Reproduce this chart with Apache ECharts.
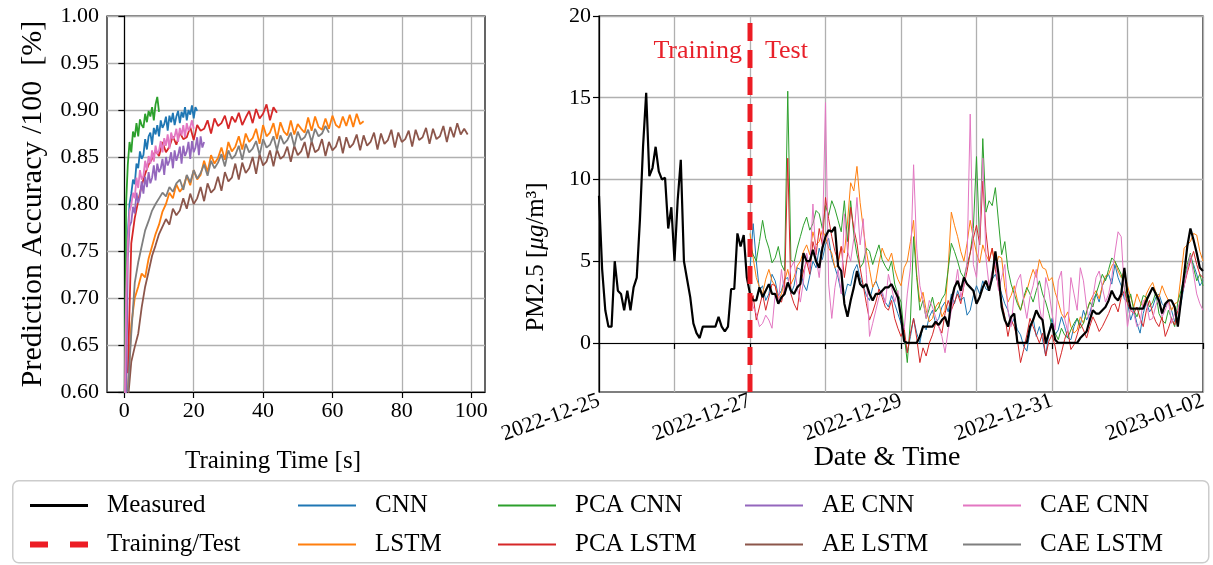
<!DOCTYPE html>
<html>
<head>
<meta charset="utf-8">
<script src="https://cdn.jsdelivr.net/npm/echarts@6/dist/echarts.min.js"></script>
<style>
  html, body { margin: 0; padding: 0; background: #fff; }
  #chart { width: 1213px; height: 565px; }
</style>
</head>
<body>
<div id="chart"></div>
<script>
// ---- left panel: prediction accuracy vs training time ----
const modelNames = ['CNN', 'LSTM', 'PCA CNN', 'PCA LSTM', 'AE CNN', 'AE LSTM', 'CAE CNN', 'CAE LSTM'];
const modelColors = ['#1f77b4', '#ff7f0e', '#2ca02c', '#d62728', '#9467bd', '#8c564b', '#e377c2', '#7f7f7f'];

// first training time [s] and spacing of each accuracy record, in modelNames order
const accStart = [0, 1, 0, 1, 0.5, 1, 0, 1];
const accStep = [0.5, 1, 0.5, 1, 0.5, 1, 0.5, 1];

const accCNN = [0.55, 0.73, 0.768, 0.800, 0.811, 0.826, 0.821, 0.843, 0.838, 0.856, 0.848, 0.852, 0.869, 0.858,
  0.872, 0.876, 0.863, 0.881, 0.874, 0.884, 0.872, 0.889, 0.881, 0.885, 0.893, 0.878, 0.894, 0.887, 0.897, 0.884,
  0.893, 0.899, 0.886, 0.898, 0.892, 0.903, 0.889, 0.900, 0.895, 0.905, 0.891, 0.903, 0.899];
const accLSTM = [0.60, 0.672, 0.700, 0.712, 0.726, 0.722, 0.742, 0.755, 0.768, 0.778, 0.792, 0.800, 0.812, 0.806,
  0.821, 0.813, 0.818, 0.830, 0.820, 0.836, 0.826, 0.831, 0.846, 0.834, 0.852, 0.843, 0.849, 0.860, 0.847, 0.866,
  0.856, 0.861, 0.872, 0.858, 0.875, 0.866, 0.870, 0.880, 0.864, 0.884, 0.872, 0.876, 0.886, 0.869, 0.887, 0.877,
  0.873, 0.889, 0.874, 0.885, 0.880, 0.876, 0.892, 0.878, 0.893, 0.882, 0.879, 0.891, 0.880, 0.894, 0.884, 0.881,
  0.893, 0.883, 0.895, 0.882, 0.896, 0.885, 0.888];
const accPCACNN = [0.55, 0.80, 0.842, 0.866, 0.855, 0.877, 0.871, 0.886, 0.872, 0.890, 0.884, 0.881, 0.896, 0.887,
  0.899, 0.893, 0.903, 0.889, 0.906, 0.914, 0.898];
const accPCALSTM = [0.62, 0.758, 0.785, 0.803, 0.820, 0.832, 0.842, 0.848, 0.857, 0.851, 0.866, 0.855, 0.861, 0.872,
  0.863, 0.876, 0.869, 0.871, 0.882, 0.868, 0.884, 0.878, 0.880, 0.889, 0.875, 0.891, 0.883, 0.886, 0.894, 0.880,
  0.893, 0.887, 0.897, 0.884, 0.892, 0.899, 0.886, 0.901, 0.891, 0.896, 0.906, 0.889, 0.903, 0.897];
const accAECNN = [0.58, 0.742, 0.776, 0.781, 0.797, 0.790, 0.812, 0.801, 0.808, 0.824, 0.811, 0.829, 0.818, 0.834,
  0.822, 0.828, 0.841, 0.825, 0.843, 0.834, 0.838, 0.848, 0.831, 0.850, 0.841, 0.846, 0.855, 0.838, 0.857, 0.846,
  0.852, 0.861, 0.843, 0.862, 0.851, 0.856, 0.866, 0.848, 0.867, 0.855, 0.860, 0.871, 0.852, 0.872, 0.860, 0.866];
const accAELSTM = [0.59, 0.632, 0.648, 0.662, 0.690, 0.712, 0.728, 0.745, 0.756, 0.768, 0.776, 0.784, 0.778, 0.795,
  0.788, 0.793, 0.806, 0.795, 0.811, 0.800, 0.806, 0.818, 0.803, 0.822, 0.812, 0.816, 0.829, 0.814, 0.834, 0.824,
  0.828, 0.843, 0.826, 0.844, 0.833, 0.838, 0.850, 0.832, 0.853, 0.841, 0.845, 0.857, 0.840, 0.858, 0.848, 0.851,
  0.861, 0.845, 0.862, 0.852, 0.856, 0.866, 0.849, 0.867, 0.855, 0.858, 0.869, 0.851, 0.866, 0.857, 0.861, 0.872,
  0.854, 0.871, 0.860, 0.864, 0.874, 0.857, 0.873, 0.862, 0.866, 0.876, 0.858, 0.875, 0.864, 0.868, 0.879, 0.860,
  0.876, 0.866, 0.869, 0.878, 0.861, 0.879, 0.868, 0.871, 0.881, 0.864, 0.880, 0.869, 0.872, 0.883, 0.866, 0.882,
  0.871, 0.886, 0.874, 0.880, 0.874];
const accCAECNN = [0.55, 0.70, 0.758, 0.792, 0.799, 0.812, 0.806, 0.828, 0.817, 0.836, 0.826, 0.830, 0.846, 0.836,
  0.851, 0.843, 0.857, 0.845, 0.862, 0.853, 0.857, 0.867, 0.855, 0.870, 0.862, 0.874, 0.859, 0.876, 0.869, 0.872,
  0.880, 0.866, 0.881, 0.873, 0.884, 0.871, 0.886, 0.878, 0.882, 0.889, 0.880];
const accCAELSTM = [0.60, 0.662, 0.716, 0.738, 0.755, 0.772, 0.782, 0.793, 0.800, 0.806, 0.812, 0.808, 0.818, 0.813,
  0.822, 0.826, 0.815, 0.831, 0.823, 0.836, 0.827, 0.833, 0.842, 0.830, 0.846, 0.838, 0.844, 0.853, 0.840, 0.857,
  0.848, 0.852, 0.862, 0.847, 0.864, 0.855, 0.859, 0.867, 0.852, 0.869, 0.860, 0.863, 0.872, 0.857, 0.873, 0.864,
  0.868, 0.876, 0.861, 0.877, 0.868, 0.871, 0.879, 0.866, 0.880, 0.872, 0.875, 0.883, 0.876];
const accByModel = [accCNN, accLSTM, accPCACNN, accPCALSTM, accAECNN, accAELSTM, accCAECNN, accCAELSTM];

const timeTicks = [0, 20, 40, 60, 80, 100];
const accTicks = [0.60, 0.65, 0.70, 0.75, 0.80, 0.85, 0.90, 0.95, 1.00];

// ---- right panel: PM2.5, hours since 2022-12-25 00:00 ----
const dateTickHours = [0, 48, 96, 144, 192];
const dateTickLabels = ['2022-12-25', '2022-12-27', '2022-12-29', '2022-12-31', '2023-01-02'];
const dayHours = 24;
const pmTicks = [0, 5, 10, 15, 20];
const splitHour = 48;

// hourly measured values, from hour 0
const measured = [9.0, 4.5, 2.0, 1.0, 1.0, 5.0, 3.2, 3.0, 2.0, 3.2, 2.0, 3.4, 4.0, 7.5, 12.0, 15.3, 10.2, 10.7,
  12.0, 10.5, 10.0, 10.1, 7.0, 8.3, 5.0, 8.7, 11.2, 5.0, 3.9, 2.8, 1.2, 0.6, 0.3, 1.0, 1.0, 1.0, 1.0, 1.0, 1.6,
  1.0, 0.7, 1.0, 3.3, 3.3, 6.7, 5.9, 6.6, 4.0, 3.0, 2.6, 2.6, 3.4, 2.8, 3.2, 3.6, 3.0, 3.0, 2.4, 2.8, 3.0, 3.7,
  3.2, 3.0, 3.4, 3.6, 5.5, 5.0, 5.0, 5.7, 5.0, 4.6, 5.8, 6.5, 6.9, 6.8, 7.1, 4.7, 4.4, 2.4, 1.6, 2.6, 3.4, 4.4,
  3.6, 3.4, 3.6, 3.0, 2.6, 3.0, 3.0, 3.2, 3.4, 3.4, 3.6, 3.2, 2.8, 1.6, 0.1, 0, 0, 0, 0, 0.4, 1.0, 1.0, 1.0, 1.0,
  1.3, 1.1, 1.4, 1.6, 1.0, 2.6, 3.4, 3.8, 3.2, 4.0, 3.6, 3.4, 3.2, 2.4, 2.8, 3.4, 3.8, 3.2, 4.0, 5.6, 4.2, 2.2,
  1.4, 1.0, 1.6, 1.8, 0, 0, 0, 0, 1.0, 1.4, 2.0, 1.6, 1.4, 0, 0.6, 1.2, 0.2, 0, 0, 0, 0, 0, 0, 0, 0.3, 0.5, 0.7,
  1.4, 2.0, 1.8, 1.8, 2.0, 2.2, 2.6, 3.2, 2.8, 2.6, 3.0, 4.6, 3.0, 2.1, 2.1, 2.1, 2.1, 2.1, 2.6, 3.0, 3.4, 3.0,
  2.6, 1.8, 2.4, 2.6, 2.6, 2.2, 1.0, 2.6, 4.2, 5.9, 7.0, 6.3, 5.5, 4.6, 4.4];

// hourly model predictions over the test period, from hour 48
const predCNN = [4.5, 7.3, 5.0, 3.2, 3.5, 2.6, 3.0, 4.2, 3.8, 2.9, 3.2, 3.9, 4.0, 3.0, 3.5, 4.6, 4.5, 3.6, 3.2,
  4.1, 5.0, 4.6, 5.8, 5.1, 6.0, 6.4, 5.2, 4.6, 4.0, 3.1, 2.8, 3.6, 3.5, 4.4, 4.8, 4.0, 3.5, 2.9, 2.6, 3.4, 3.8,
  3.3, 3.0, 2.5, 2.2, 2.9, 2.4, 1.8, 1.2, 0.2, -0.6, 0.4, 1.5, 0.6, 0.0, 1.1, 0.8, 1.6, 2.0, 1.2, 1.5, 2.2, 2.5,
  1.9, 3.0, 2.4, 3.2, 2.6, 2.8, 1.7, 2.0, 2.9, 3.5, 3.0, 3.8, 3.3, 3.2, 3.9, 4.2, 3.6, 3.0, 2.4, 2.0, 1.1, 1.5,
  0.8, 0.5, -0.2, -0.5, 0.7, 1.5, 0.4, 1.0, 0.2, -0.8, 0.6, 1.5, 0.5, 0.8, 1.6, 1.0, 0.3, 0.2, 1.0, 1.5, 1.1,
  2.0, 1.4, 1.8, 2.6, 3.0, 2.5, 3.5, 3.9, 4.2, 3.6, 4.8, 4.0, 3.5, 2.7, 2.5, 1.4, 2.0, 1.2, 0.6, 1.8, 2.5, 1.9,
  2.2, 2.8, 3.0, 2.4, 2.2, 2.6, 2.0, 1.3, 1.5, 2.4, 3.5, 4.6, 5.2, 4.8, 4.2, 3.5, 3.8];
const predLSTM = [6.7, 5.2, 4.0, 3.4, 3.0, 3.9, 4.5, 3.8, 3.5, 2.7, 3.0, 3.8, 4.5, 3.6, 4.0, 4.7, 5.0, 5.6, 6.0,
  5.4, 6.8, 6.0, 6.2, 6.9, 6.5, 5.8, 5.5, 4.6, 4.8, 5.9, 5.5, 7.4, 9.8, 9.3, 10.8, 8.6, 7.0, 5.6, 4.5, 3.4, 3.8,
  4.9, 5.8, 5.3, 5.0, 5.5, 4.5, 3.9, 3.5, 4.6, 5.0, 6.2, 7.5, 4.2, 2.5, 3.1, 2.0, 1.3, 1.5, 2.2, 2.5, 1.6, 2.0,
  4.6, 8.0, 7.2, 6.5, 5.6, 5.0, 6.1, 7.5, 6.4, 5.5, 4.9, 6.0, 5.4, 5.0, 5.8, 4.5, 5.3, 5.2, 3.4, 2.5, 2.9, 3.5,
  2.6, 2.0, 2.7, 3.2, 3.9, 4.5, 4.0, 5.1, 4.6, 4.5, 3.8, 4.0, 3.1, 2.5, 1.8, 1.5, 1.9, 1.0, 0.6, 0.8, 1.6, 1.2,
  1.9, 2.5, 2.9, 3.2, 2.7, 3.5, 4.1, 4.2, 4.7, 5.0, 4.4, 4.0, 4.4, 3.5, 2.8, 2.2, 3.0, 2.5, 2.2, 3.0, 3.4, 3.7,
  3.1, 2.8, 3.5, 3.0, 2.6, 2.0, 2.4, 2.5, 4.1, 5.8, 6.0, 6.2, 6.7, 6.6, 5.6, 5.0];
const predPCACNN = [6.0, 5.4, 5.0, 6.2, 7.5, 6.4, 5.8, 4.9, 5.2, 5.9, 4.8, 4.4, 15.4, 5.1, 4.9, 5.8, 6.5, 7.2,
  7.7, 6.9, 7.3, 8.1, 7.9, 7.0, 8.4, 7.8, 8.7, 8.2, 7.5, 6.8, 8.7, 6.2, 8.7, 6.6, 5.4, 4.6, 4.9, 5.8, 5.6, 4.8,
  5.4, 6.0, 5.1, 4.7, 4.4, 5.0, 3.6, 3.0, 2.5, 0.6, -1.2, 1.4, 6.5, 4.0, 2.0, 2.6, 1.5, 2.1, 2.8, 1.9, 2.2, 2.7,
  3.0, 4.5, 6.1, 5.6, 5.0, 4.3, 4.0, 4.8, 5.5, 7.0, 11.4, 6.0, 12.5, 8.0, 8.7, 8.4, 9.5, 7.4, 5.4, 6.2, 4.5, 3.6,
  3.0, 2.4, 2.0, 2.8, 3.4, 3.0, 2.5, 3.2, 3.8, 3.0, 2.5, 1.8, 1.0, 0.6, 0.2, 0.9, 0.5, 0.3, 0.8, 1.2, 1.5, 0.9,
  1.2, 1.9, 2.5, 2.2, 3.0, 3.6, 4.2, 3.8, 4.5, 5.2, 5.0, 4.6, 4.2, 3.4, 2.5, 3.0, 2.0, 1.6, 2.2, 2.9, 2.8, 2.2,
  2.5, 3.1, 1.8, 1.4, 1.2, 2.0, 1.5, 1.0, 2.5, 3.2, 4.0, 4.8, 5.5, 4.6, 3.8, 4.2, 3.5];
const predPCALSTM = [2.0, 2.9, 1.4, 2.2, 3.0, 2.0, 2.8, 3.6, 3.5, 2.6, 2.5, 3.3, 11.3, 3.0, 2.4, 2.0, 3.5, 4.4,
  5.0, 4.2, 6.2, 5.4, 7.0, 6.0, 8.9, 7.6, 6.5, 5.6, 5.0, 5.9, 4.0, 5.4, 8.3, 7.0, 6.1, 4.6, 3.5, 2.4, 1.4, 1.9,
  2.5, 3.3, 2.8, 2.2, 2.0, 2.6, 1.5, 0.9, 0.4, 0.9, -0.6, 0.6, 1.5, 0.3, -1.2, -0.3, -0.8, 0.0, 0.5, 1.2, 1.0,
  0.6, 1.8, 2.6, 2.0, 2.5, 3.0, 2.4, 3.5, 4.4, 5.5, 6.4, 7.2, 6.0, 9.9, 6.8, 5.0, 5.8, 4.5, 3.4, 2.5, 1.6, 0.4,
  1.4, 1.0, 0.2, -1.2, -0.4, 0.5, 1.5, 1.0, 0.5, 0.0, 0.6, -0.8, 0.1, 0.5, -0.2, -1.3, -0.6, 0.2, 0.8, -0.4,
  -0.1, 0.5, 1.2, 0.8, 0.3, 1.0, 1.6, 1.2, 0.7, 1.0, 1.4, 1.8, 2.3, 2.4, 1.9, 2.8, 3.2, 2.4, 2.0, 1.8, 2.2, 1.5,
  1.0, 2.0, 2.6, 1.8, 1.3, 1.0, 1.6, 0.4, 0.9, 1.5, 1.1, 2.0, 2.8, 3.5, 4.3, 5.0, 5.6, 4.8, 4.2, 4.0];
const predCAECNN = [3.0, 2.2, 1.8, 1.0, 1.2, 1.7, 1.4, 0.9, 3.0, 2.4, 4.5, 3.0, 3.5, 4.6, 5.0, 3.4, 2.5, 3.8,
  5.5, 4.5, 8.5, 5.2, 4.0, 6.0, 14.7, 3.6, 1.5, 3.4, 4.5, 3.0, 7.9, 5.6, 5.0, 6.4, 8.9, 6.0, 7.6, 4.2, 0.4, 1.2,
  2.0, 2.8, 3.2, 2.4, 4.2, 3.4, 2.5, 3.2, 1.5, 0.8, 3.0, 4.6, 10.9, 5.8, 3.5, 2.6, 1.5, 2.6, 2.2, 1.6, 1.0, 0.4,
  -0.6, 0.8, 2.0, 3.2, 4.5, 2.8, 3.5, 5.0, 14.0, 4.8, 4.0, 6.5, 11.3, 5.2, 3.5, 4.4, 5.0, 3.2, 4.0, 4.8, 2.0,
  1.0, 3.0, 3.8, 4.2, 2.6, 1.5, 2.8, 3.5, 4.5, 2.2, 1.2, 4.0, 3.2, 1.8, 0.8, 3.8, 4.4, 1.5, 0.7, 4.0, 3.0, 2.0,
  4.6, 3.8, 2.2, 1.2, 2.8, 4.0, 4.4, 3.4, 2.5, 3.0, 4.0, 5.5, 6.8, 6.5, 3.2, 1.0, 2.2, 1.8, 1.0, 1.2, 2.6, 2.5,
  1.4, 1.5, 2.3, 2.8, 1.6, 2.0, 2.6, 1.2, 1.8, 2.0, 2.7, 3.5, 4.5, 5.4, 4.2, 3.0, 2.4, 2.0];
const predNames = ['CNN', 'LSTM', 'PCA CNN', 'PCA LSTM', 'CAE CNN'];
const predByModel = [predCNN, predLSTM, predPCACNN, predPCALSTM, predCAECNN];

const FONT = 'Liberation Serif';
const gridColor = '#b0b0b0';
const splitColor = '#ec1c24';

const chart = echarts.init(document.getElementById('chart'), null, { renderer: 'canvas' });

function colorOf(name) {
  return modelColors[modelNames.indexOf(name)];
}

const series = [];

modelNames.forEach((name, k) => {
  series.push({
    name: name,
    type: 'line',
    xAxisIndex: 0,
    yAxisIndex: 0,
    symbol: 'none',
    color: modelColors[k],
    lineStyle: { width: 1.8, color: modelColors[k] },
    data: accByModel[k].map((v, i) => [accStart[k] + i * accStep[k], v])
  });
});

predNames.forEach((name, k) => {
  series.push({
    name: name,
    type: 'line',
    xAxisIndex: 1,
    yAxisIndex: 1,
    symbol: 'none',
    color: colorOf(name),
    lineStyle: { width: 1, color: colorOf(name) },
    data: predByModel[k].map((v, i) => [splitHour + i, v])
  });
});

series.push({
  name: 'Measured',
  type: 'line',
  xAxisIndex: 1,
  yAxisIndex: 1,
  symbol: 'none',
  color: '#000',
  lineStyle: { width: 2.2, color: '#000' },
  data: measured.map((v, i) => [i, v])
});

series.push({
  name: 'Training/Test',
  type: 'line',
  xAxisIndex: 1,
  yAxisIndex: 1,
  symbol: 'none',
  color: splitColor,
  lineStyle: { width: 5, color: splitColor, type: [18, 9] },
  data: [[splitHour, -3], [splitHour, 20]]
});

const tickLabel = { fontFamily: FONT, fontSize: 22, color: '#000' };
const axisLine = { show: true, lineStyle: { color: '#000', width: 1.2 } };
const axisTick = { show: true, length: 6, lineStyle: { color: '#000', width: 1.2 } };
const splitLine = { show: true, lineStyle: { color: gridColor, width: 1.3 } };

// legend cells: name, left edge of the sample, row
const legendCells = [
  ['Measured', 30, 0], ['Training/Test', 30, 1],
  ['CNN', 298, 0], ['LSTM', 298, 1],
  ['PCA CNN', 498, 0], ['PCA LSTM', 498, 1],
  ['AE CNN', 745, 0], ['AE LSTM', 745, 1],
  ['CAE CNN', 963, 0], ['CAE LSTM', 963, 1]
];
const legendRowTop = [493, 532];

const legends = legendCells.map(([name, left, row]) => {
  let icon = 'rect';
  let h = 2;
  if (name === 'Measured') h = 3;
  if (name === 'Training/Test') {
    icon = 'path://M0,0h18v6h-18z M40,0h18v6h-18z';
    h = 6;
  }
  return {
    left: left,
    top: legendRowTop[row],
    padding: 0,
    icon: icon,
    itemWidth: 58,
    itemHeight: h,
    selectedMode: false,
    z: 5,
    textStyle: { fontFamily: FONT, fontSize: 25, color: '#000', padding: [0, 0, 0, 14] },
    data: [name]
  };
});

const option = {
  backgroundColor: '#fff',
  animation: false,
  grid: [
    { left: 107, top: 16, width: 378, height: 376, show: true, borderColor: '#000', borderWidth: 1.2, backgroundColor: 'transparent' },
    { left: 599, top: 16, width: 604, height: 376, show: true, borderColor: '#000', borderWidth: 1.2, backgroundColor: 'transparent' }
  ],
  xAxis: [
    {
      type: 'value', gridIndex: 0, min: -5, max: 104,
      name: 'Training Time [s]', nameLocation: 'middle', nameGap: 57, nameMoveOverlap: false,
      nameTextStyle: { fontFamily: FONT, fontSize: 25, color: '#000', padding: [0, 46, 0, 0] },
      axisLine: axisLine,
      axisTick: Object.assign({}, axisTick, { customValues: timeTicks }),
      axisLabel: Object.assign({}, tickLabel, { customValues: timeTicks, margin: 8 }),
      splitLine: splitLine
    },
    {
      type: 'value', gridIndex: 1, min: 0, max: 192, interval: dayHours,
      name: 'Date & Time', nameLocation: 'middle', nameGap: 52, nameMoveOverlap: false,
      nameTextStyle: { fontFamily: FONT, fontSize: 28, color: '#000', padding: [0, 28, 0, 0] },
      axisLine: axisLine,
      axisTick: axisTick,
      axisLabel: Object.assign({}, tickLabel, {
        customValues: dateTickHours,
        rotate: 20,
        margin: 8,
        formatter: v => dateTickLabels[dateTickHours.indexOf(v)]
      }),
      splitLine: splitLine
    }
  ],
  yAxis: [
    {
      type: 'value', gridIndex: 0, min: 0.6, max: 1.0,
      name: 'Prediction Accuracy /100  [%]', nameLocation: 'middle', nameGap: 59, nameMoveOverlap: false,
      nameTextStyle: { fontFamily: FONT, fontSize: 30, color: '#000' },
      axisLine: axisLine,
      axisTick: Object.assign({}, axisTick, { customValues: accTicks }),
      axisLabel: Object.assign({}, tickLabel, { customValues: accTicks, margin: 8, formatter: v => v.toFixed(2) }),
      splitLine: splitLine
    },
    {
      type: 'value', gridIndex: 1, min: -3, max: 20,
      name: '{r|PM2.5 [}{i|μg}{r|/m³]}', nameLocation: 'middle', nameGap: 50, nameMoveOverlap: false,
      nameTextStyle: {
        fontFamily: FONT, fontSize: 25, color: '#000', padding: [0, 106, 0, 0],
        rich: {
          r: { fontFamily: FONT, fontSize: 25, color: '#000' },
          i: { fontFamily: FONT, fontSize: 25, color: '#000', fontStyle: 'italic' }
        }
      },
      axisLine: axisLine,
      axisTick: Object.assign({}, axisTick, { customValues: pmTicks }),
      axisLabel: Object.assign({}, tickLabel, { customValues: pmTicks, margin: 8 }),
      splitLine: splitLine
    }
  ],
  legend: legends,
  graphic: [
    {
      type: 'rect', left: 12, top: 480, z: 0,
      shape: { width: 1196, height: 82, r: 6 },
      style: { fill: '#fff', stroke: '#cccccc', lineWidth: 1.5 }
    },
    {
      type: 'text', right: 1213 - 742, top: 38, z: 10,
      style: { text: 'Training', fill: '#e8202a', font: '26px "Liberation Serif"' }
    },
    {
      type: 'text', left: 765, top: 38, z: 10,
      style: { text: 'Test', fill: '#e8202a', font: '26px "Liberation Serif"' }
    }
  ],
  series: series
};

chart.setOption(option);
</script>
</body>
</html>
